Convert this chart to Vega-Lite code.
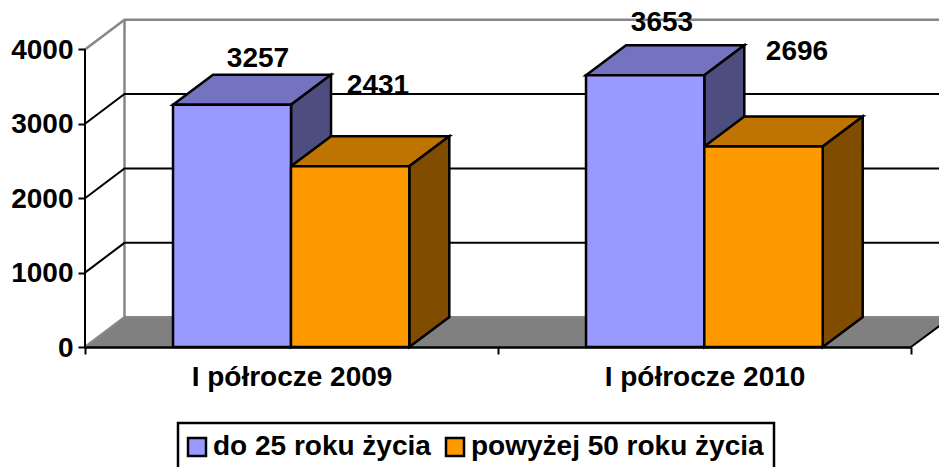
{
"$schema":"https://vega.github.io/schema/vega-lite/v6.json",
"width":826,"height":347,
"autosize":{"type":"none"},
"padding":{"left":85,"top":0,"right":28,"bottom":120},
"background":"white",
"config":{"view":{"stroke":null},"font":"Liberation Sans","legend":{"strokeWidth":2.5}},
"datasets":{
"floor":[{"x":0,"xb":2,"v":0},{"x":0.0956,"xb":2.0969,"v":400}],
"walls":[
{"line":"axis","kind":"black","x":0,"v":0},{"line":"axis","kind":"black","x":0,"v":4000},
{"line":"g1","kind":"black","x":0,"v":1000},{"line":"g1","kind":"black","x":0.0956,"v":1400},{"line":"g1","kind":"black","x":2.1,"v":1400},
{"line":"g2","kind":"black","x":0,"v":2000},{"line":"g2","kind":"black","x":0.0956,"v":2400},{"line":"g2","kind":"black","x":2.1,"v":2400},
{"line":"g3","kind":"black","x":0,"v":3000},{"line":"g3","kind":"black","x":0.0956,"v":3400},{"line":"g3","kind":"black","x":2.1,"v":3400},
{"line":"right","kind":"black","x":2,"v":0},{"line":"right","kind":"black","x":2.0969,"v":400},
{"line":"g4","kind":"gray","x":0,"v":4000},{"line":"g4","kind":"gray","x":0.0956,"v":4400},{"line":"g4","kind":"gray","x":2.1,"v":4400},
{"line":"back","kind":"gray","x":0.0956,"v":400},{"line":"back","kind":"gray","x":0.0956,"v":4400},
{"line":"left","kind":"gray","x":0,"v":0},{"line":"left","kind":"gray","x":0.0956,"v":400},
{"line":"fl","kind":"gray","x":0.0956,"v":400},{"line":"fl","kind":"gray","x":2.1,"v":400}
],
"tops":[
{"series":"do 25 roku życia","period":"I półrocze 2009","x":0.2131,"xb":0.4988,"v":3257},
{"series":"do 25 roku życia","period":"I półrocze 2009","x":0.31,"xb":0.5957,"v":3660},
{"series":"powyżej 50 roku życia","period":"I półrocze 2009","x":0.4988,"xb":0.7852,"v":2431},
{"series":"powyżej 50 roku życia","period":"I półrocze 2009","x":0.5957,"xb":0.8821,"v":2834},
{"series":"do 25 roku życia","period":"I półrocze 2010","x":1.2131,"xb":1.4995,"v":3653},
{"series":"do 25 roku życia","period":"I półrocze 2010","x":1.31,"xb":1.5964,"v":4056},
{"series":"powyżej 50 roku życia","period":"I półrocze 2010","x":1.4995,"xb":1.7862,"v":2696},
{"series":"powyżej 50 roku życia","period":"I półrocze 2010","x":1.5964,"xb":1.8831,"v":3099}
],
"sides":[
{"series":"do 25 roku życia","period":"I półrocze 2009","x":0.4988,"v":3257,"v0":0},
{"series":"do 25 roku życia","period":"I półrocze 2009","x":0.5957,"v":3660,"v0":403},
{"series":"powyżej 50 roku życia","period":"I półrocze 2009","x":0.7852,"v":2431,"v0":0},
{"series":"powyżej 50 roku życia","period":"I półrocze 2009","x":0.8821,"v":2834,"v0":403},
{"series":"do 25 roku życia","period":"I półrocze 2010","x":1.4995,"v":3653,"v0":0},
{"series":"do 25 roku życia","period":"I półrocze 2010","x":1.5964,"v":4056,"v0":403},
{"series":"powyżej 50 roku życia","period":"I półrocze 2010","x":1.7862,"v":2696,"v0":0},
{"series":"powyżej 50 roku życia","period":"I półrocze 2010","x":1.8831,"v":3099,"v0":403}
],
"bars":[
{"series":"do 25 roku życia","period":"I półrocze 2009","x":0.2131,"xb":0.4988,"v":3257},
{"series":"powyżej 50 roku życia","period":"I półrocze 2009","x":0.4988,"xb":0.7852,"v":2431},
{"series":"do 25 roku życia","period":"I półrocze 2010","x":1.2131,"xb":1.4995,"v":3653},
{"series":"powyżej 50 roku życia","period":"I półrocze 2010","x":1.4995,"xb":1.7862,"v":2696}
],
"labels":[
{"value":3257,"x":0.4189,"v":3870},
{"value":2431,"x":0.7094,"v":3510},
{"value":3653,"x":1.3971,"v":4355},
{"value":2696,"x":1.724,"v":3965}
]
},
"encoding":{
"x":{"field":"x","type":"quantitative","stack":null,"scale":{"domain":[0,2],"nice":false,"zero":false},
"axis":{"title":null,"grid":false,"values":[0,0.5,1,1.5,2],"labelExpr":"datum.value==0.5?'I półrocze 2009':datum.value==1.5?'I półrocze 2010':''","labelFont":"Liberation Sans","labelFontWeight":"bold","labelFontSize":28,"labelColor":"black","labelFlush":false,"labelOverlap":false,"labelLimit":400,"labelPadding":9,"tickSize":7,"tickWidth":2,"tickColor":"black","tickOpacity":{"expr":"datum.value==0.5||datum.value==1.5?0:1"},"domainColor":"black","domainWidth":2.5,"zindex":1}},
"y":{"field":"v","type":"quantitative","stack":null,"scale":{"domain":[0,4664],"nice":false},
"axis":{"title":null,"grid":false,"values":[0,1000,2000,3000,4000],"format":"d","domain":false,"labelFont":"Liberation Sans","labelFontWeight":"bold","labelFontSize":28,"labelColor":"black","labelPadding":5,"labelOffset":1,"tickSize":7,"tickWidth":2,"tickColor":"black","zindex":1}}
},
"layer":[
{"data":{"name":"floor"},"mark":{"type":"area","orient":"horizontal","fill":"#808080"},"encoding":{"x2":{"field":"xb"}}},
{"data":{"name":"walls"},"transform":[{"filter":"datum.kind=='gray'"}],"mark":{"type":"line","color":"#868686","strokeWidth":2.5},"encoding":{"detail":{"field":"line"}}},
{"data":{"name":"walls"},"transform":[{"filter":"datum.kind=='black'"}],"mark":{"type":"line","color":"black","strokeWidth":2},"encoding":{"detail":{"field":"line"}}},
{"data":{"name":"labels"},"mark":{"type":"text","font":"Liberation Sans","fontWeight":"bold","fontSize":28,"color":"black","baseline":"middle","align":"center"},"encoding":{"text":{"field":"value","type":"quantitative","format":"d"}}},
{"data":{"name":"tops"},"transform":[{"filter":"datum.series=='do 25 roku życia'"}],"mark":{"type":"area","orient":"horizontal","fill":"#7373BF","stroke":"black","strokeWidth":2.5},"encoding":{"x2":{"field":"xb"},"detail":{"field":"period"}}},
{"data":{"name":"sides"},"transform":[{"filter":"datum.series=='do 25 roku życia'"}],"mark":{"type":"area","orient":"vertical","fill":"#4D4D80","stroke":"black","strokeWidth":2.5},"encoding":{"y2":{"field":"v0"},"detail":{"field":"period"}}},
{"data":{"name":"tops"},"transform":[{"filter":"datum.series=='powyżej 50 roku życia'"}],"mark":{"type":"area","orient":"horizontal","fill":"#BF7300","stroke":"black","strokeWidth":2.5},"encoding":{"x2":{"field":"xb"},"detail":{"field":"period"}}},
{"data":{"name":"sides"},"transform":[{"filter":"datum.series=='powyżej 50 roku życia'"}],"mark":{"type":"area","orient":"vertical","fill":"#804D00","stroke":"black","strokeWidth":2.5},"encoding":{"y2":{"field":"v0"},"detail":{"field":"period"}}},
{"data":{"name":"bars"},"mark":{"type":"rect","stroke":"black","strokeWidth":2.5},
"encoding":{"x2":{"field":"xb"},"y2":{"datum":0},
"fill":{"field":"series","type":"nominal","scale":{"domain":["do 25 roku życia","powyżej 50 roku życia"],"range":["#9999FF","#FF9900"]},
"legend":{"title":null,"orient":"none","legendX":93,"legendY":423,"direction":"horizontal","columns":2,"symbolType":"square","symbolSize":324,"symbolStrokeColor":"black","symbolStrokeWidth":2.5,"symbolOffset":-5,"labelFont":"Liberation Sans","labelFontWeight":"bold","labelFontSize":28,"labelColor":"black","labelLimit":400,"labelOffset":2,"columnPadding":10,"padding":10,"strokeColor":"black","fillColor":"white"}}}}
]
}
